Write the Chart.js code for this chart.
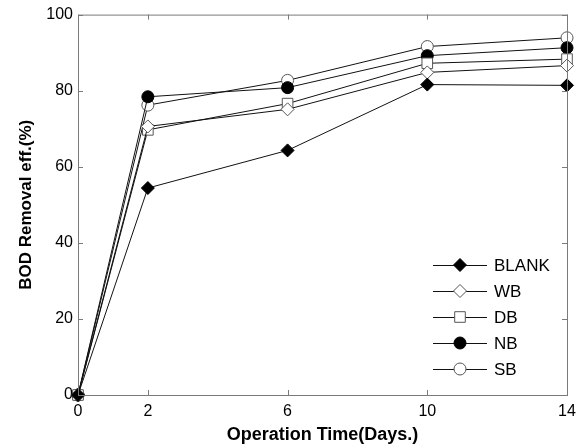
<!DOCTYPE html>
<html lang="en">
<head>
<meta charset="UTF-8">
<title>BOD Removal efficiency</title>
<script src="https://cdn.jsdelivr.net/npm/chart.js@4/dist/chart.umd.min.js"></script>
<style>
  body { margin: 0; background: #fff; }
  #wrap { width: 586px; height: 446px; position: relative; }
</style>
</head>
<body>
<div id="wrap"><canvas id="c"></canvas></div>
<script>
// data
const days = [0, 2, 6, 10, 14];
const xTicks = [0, 2, 6, 10, 14];
const yTicks = [0, 20, 40, 60, 80, 100];
const blank = [0, 54.4, 64.3, 81.6, 81.4];
const wb = [0, 70.6, 75.1, 84.8, 86.6];
const db = [0, 69.7, 76.6, 87.2, 88.3];
const nb = [0, 78.4, 80.8, 89.2, 91.3];
const sb = [0, 76.2, 82.7, 91.6, 93.9];

const font = "'Liberation Sans', Arial, sans-serif";

function series(label, values, style, filled, radius) {
  return {
    label: label,
    data: days.map((d, i) => ({ x: d, y: values[i] })),
    borderColor: '#111',
    borderWidth: 1,
    pointStyle: style,
    pointRadius: radius,
    pointBorderWidth: 1,
    pointBorderColor: filled ? '#000' : '#555',
    pointBackgroundColor: filled ? '#000' : '#fff',
    clip: false,
    tension: 0
  };
}

// frame + inward tick marks
const boxPlugin = {
  id: 'box',
  afterDatasetsDraw(chart) {
    const { ctx, chartArea: a, scales } = chart;
    ctx.save();
    ctx.strokeStyle = '#7a7a7a';
    ctx.lineWidth = 1;
    ctx.strokeRect(a.left + 0.5, a.top + 0.5, a.right - a.left, a.bottom - a.top);
    ctx.beginPath();
    xTicks.forEach(v => {
      const px = Math.round(scales.x.getPixelForValue(v)) + 0.5;
      ctx.moveTo(px, a.bottom); ctx.lineTo(px, a.bottom - 5);
      ctx.moveTo(px, a.top); ctx.lineTo(px, a.top + 5);
    });
    yTicks.forEach(v => {
      const py = Math.round(scales.y.getPixelForValue(v)) + 0.5;
      ctx.moveTo(a.left, py); ctx.lineTo(a.left + 5, py);
      ctx.moveTo(a.right, py); ctx.lineTo(a.right - 5, py);
    });
    ctx.stroke();
    ctx.restore();
  }
};

// legend drawn inside the plot, lower right
function marker(ctx, style, x, y, r, fill, stroke) {
  ctx.beginPath();
  if (style === 'circle') {
    ctx.arc(x, y, r, 0, Math.PI * 2);
  } else if (style === 'rectRot') {
    ctx.moveTo(x, y - r); ctx.lineTo(x + r, y); ctx.lineTo(x, y + r); ctx.lineTo(x - r, y); ctx.closePath();
  } else {
    const s = r * Math.SQRT1_2;
    ctx.rect(x - s, y - s, 2 * s, 2 * s);
  }
  ctx.fillStyle = fill; ctx.fill();
  ctx.strokeStyle = stroke; ctx.lineWidth = 1; ctx.stroke();
}

const legendPlugin = {
  id: 'innerLegend',
  afterDraw(chart) {
    const { ctx, chartArea: a } = chart;
    const x0 = a.right - 134, x1 = a.right - 80, xm = a.right - 107, xt = a.right - 73;
    let y = a.bottom - 130;
    ctx.save();
    ctx.font = '17px ' + font;
    ctx.textBaseline = 'middle';
    chart.data.datasets.forEach(ds => {
      ctx.beginPath();
      ctx.strokeStyle = '#111'; ctx.lineWidth = 1;
      ctx.moveTo(x0, y + 0.5); ctx.lineTo(x1, y + 0.5); ctx.stroke();
      marker(ctx, ds.pointStyle, xm, y, ds.pointRadius, ds.pointBackgroundColor, ds.pointBorderColor);
      ctx.fillStyle = '#000';
      ctx.fillText(ds.label, xt, y + 1);
      y += 26;
    });
    ctx.restore();
  }
};

new Chart(document.getElementById('c'), {
  type: 'line',
  data: {
    datasets: [
      series('BLANK', blank, 'rectRot', true, 6.5),
      series('WB', wb, 'rectRot', false, 6.5),
      series('DB', db, 'rect', false, 7.5),
      series('NB', nb, 'circle', true, 6),
      series('SB', sb, 'circle', false, 6)
    ]
  },
  options: {
    responsive: true,
    maintainAspectRatio: false,
    animation: false,
    layout: { padding: { top: 10, right: 19, left: 0, bottom: 0 } },
    plugins: { legend: { display: false }, tooltip: { enabled: false } },
    scales: {
      x: {
        type: 'linear',
        min: 0, max: 14,
        afterBuildTicks: s => { s.ticks = xTicks.map(v => ({ value: v })); },
        afterFit: s => { s.height = 51; },
        grid: { display: false, drawTicks: false },
        border: { display: false },
        ticks: { color: '#000', font: { family: font, size: 16 }, padding: 7, maxRotation: 0 },
        title: { display: true, text: 'Operation Time(Days.)', color: '#000',
                 font: { family: font, size: 18, weight: 'bold' }, padding: { top: 0, bottom: 0 } }
      },
      y: {
        min: 0, max: 100,
        afterBuildTicks: s => { s.ticks = yTicks.map(v => ({ value: v })); },
        afterFit: s => { s.width = 78; },
        grid: { display: false, drawTicks: false },
        border: { display: false },
        ticks: { color: '#000', font: { family: font, size: 16 }, padding: 5 },
        title: { display: true, text: 'BOD Removal eff.(%)', color: '#000',
                 font: { family: font, size: 17, weight: 'bold' }, padding: { top: 16, bottom: 0 } }
      }
    }
  },
  plugins: [boxPlugin, legendPlugin]
});
</script>
</body>
</html>
